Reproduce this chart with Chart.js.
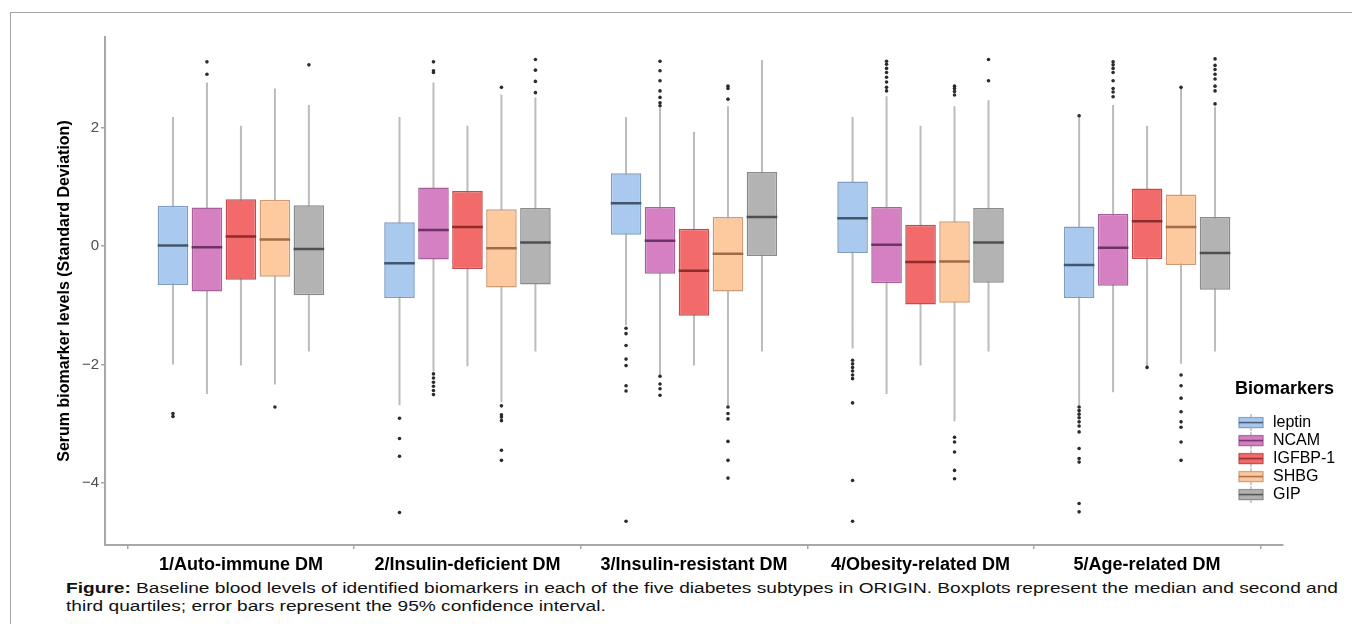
<!DOCTYPE html>
<html>
<head>
<meta charset="utf-8">
<script src="https://cdn.jsdelivr.net/npm/chart.js@4.4.1/dist/chart.umd.min.js"></script>
<style>
  html, body { margin: 0; padding: 0; background: #fff; overflow: hidden; width: 1352px; height: 624px; }
  #frame { position: absolute; left: 10px; top: 12px; width: 1400px; height: 700px; border: 1px solid #a3a3a3; }
  #wrap { position: absolute; left: 0; top: 0; width: 1352px; height: 575px; }
  #cap { position: absolute; left: 66px; top: 579px; font-family: 'Liberation Sans', Arial, sans-serif;
         font-size: 14px; line-height: 18px; color: #111; transform-origin: 0 0; white-space: nowrap; }
  #cap .ln { display: inline-block; }
</style>
</head>
<body>
<div id="frame"></div>
<div id="wrap"><canvas id="c" width="1352" height="575"></canvas></div>
<div id="cap">
  <span class="ln"><b>Figure:</b> Baseline blood levels of identified biomarkers in each of the five diabetes subtypes in ORIGIN. Boxplots represent the median and second and</span><br>
  <span class="ln">third quartiles; error bars represent the 95% confidence interval.</span>
</div>
<script>
// categories on the x axis
const categories = ['1/Auto-immune DM', '2/Insulin-deficient DM', '3/Insulin-resistant DM', '4/Obesity-related DM', '5/Age-related DM'];
const biomarkers = ['leptin', 'NCAM', 'IGFBP-1', 'SHBG', 'GIP'];
const yTicks = [-4, -2, 0, 2];

// per subtype: [lower whisker, Q1, median, Q3, upper whisker]
const leptinBox = [
  [-2.00, -0.66, 0.01, 0.68, 2.18],
  [-2.69, -0.88, -0.29, 0.40, 2.18],
  [-1.34, 0.19, 0.72, 1.23, 2.18],
  [-1.73, -0.12, 0.47, 1.09, 2.18],
  [-2.69, -0.88, -0.32, 0.33, 2.20]
];
const ncamBox = [
  [-2.50, -0.77, -0.02, 0.65, 2.76],
  [-2.12, -0.23, 0.27, 0.99, 2.76],
  [-2.19, -0.47, 0.09, 0.66, 2.34],
  [-2.50, -0.63, 0.02, 0.66, 2.53],
  [-2.47, -0.67, -0.03, 0.54, 2.38]
];
const igfbpBox = [
  [-2.02, -0.57, 0.16, 0.79, 2.03],
  [-2.03, -0.39, 0.32, 0.93, 2.03],
  [-2.02, -1.18, -0.42, 0.29, 1.93],
  [-2.02, -0.99, -0.27, 0.36, 2.03],
  [-2.04, -0.22, 0.42, 0.97, 2.03]
];
const shbgBox = [
  [-2.34, -0.52, 0.11, 0.78, 2.66],
  [-2.64, -0.70, -0.04, 0.62, 2.56],
  [-2.69, -0.77, -0.13, 0.49, 2.36],
  [-2.96, -0.96, -0.26, 0.42, 2.36],
  [-1.99, -0.32, 0.32, 0.87, 2.68]
];
const gipBox = [
  [-1.78, -0.83, -0.05, 0.69, 2.38],
  [-1.78, -0.65, 0.06, 0.64, 2.51],
  [-1.78, -0.17, 0.49, 1.25, 3.14],
  [-1.78, -0.62, 0.06, 0.64, 2.46],
  [-1.78, -0.74, -0.12, 0.49, 2.35]
];

// outliers per subtype
const leptinOut = [
  [-2.83, -2.88],
  [-2.91, -3.25, -3.55, -4.50],
  [-1.39, -1.48, -1.68, -1.91, -2.02, -2.36, -2.45, -4.65],
  [-1.93, -1.99, -2.05, -2.11, -2.18, -2.24, -2.65, -3.96, -4.65],
  [2.20, -2.72, -2.78, -2.84, -2.90, -2.97, -3.04, -3.14, -3.42, -3.59, -3.65, -4.35, -4.49]
];
const ncamOut = [
  [3.11, 2.90],
  [3.11, 2.96, 2.93, -2.16, -2.23, -2.30, -2.37, -2.44, -2.51],
  [3.12, 2.96, 2.79, 2.62, 2.51, 2.42, 2.37, -2.20, -2.33, -2.41, -2.52],
  [3.12, 3.07, 3.00, 2.93, 2.85, 2.77, 2.68, 2.62],
  [3.11, 3.06, 3.00, 2.93, 2.79, 2.66, 2.60, 2.52]
];
const igfbpOut = [[], [], [], [], [-2.05]];
const shbgOut = [
  [-2.72],
  [2.68, -2.70, -2.85, -2.89, -2.95, -3.45, -3.62],
  [2.70, 2.66, 2.48, -2.72, -2.83, -2.92, -3.30, -3.62, -3.92],
  [2.70, 2.66, 2.61, 2.55, -3.23, -3.31, -3.48, -3.79, -3.93],
  [2.68, -2.18, -2.36, -2.57, -2.80, -2.97, -3.06, -3.31, -3.62]
];
const gipOut = [
  [3.06],
  [3.15, 2.97, 2.78, 2.59],
  [],
  [3.15, 2.79],
  [3.16, 3.05, 2.98, 2.90, 2.82, 2.70, 2.62, 2.40]
];

const fills = ['#a9c9ee', '#d580c2', '#f26a6a', '#fdcaa0', '#b3b3b3'];
const edges = ['#7f9cc2', '#a8609b', '#c14e4e', '#cf9a76', '#8a8a8a'];
const medianColors = ['#44556e', '#6d3365', '#8e2c2c', '#a36a48', '#4f4f4f'];
const whiskerColor = '#bcbcbc';
const axisColor = '#a8a8a8';

const boxStats = [leptinBox, ncamBox, igfbpBox, shbgBox, gipBox];
const outStats = [leptinOut, ncamOut, igfbpOut, shbgOut, gipOut];

const N = biomarkers.length;
const CAT_PCT = 0.75;
const BAR_PCT = 0.9;
const slot = CAT_PCT / N;
const half = slot * BAR_PCT / 2;

Chart.defaults.font.family = "'Liberation Sans', Arial, sans-serif";

// little boxplot icons for the legend
function makeIcon(fill, edge, med) {
  const cv = document.createElement('canvas');
  cv.width = 26; cv.height = 17;
  const g = cv.getContext('2d');
  g.strokeStyle = whiskerColor; g.lineWidth = 1.5;
  g.beginPath(); g.moveTo(13, 0); g.lineTo(13, 17); g.stroke();
  g.fillStyle = fill; g.fillRect(1, 3.5, 24, 10);
  g.strokeStyle = edge; g.lineWidth = 1.2; g.strokeRect(1, 3.5, 24, 10);
  g.strokeStyle = med; g.lineWidth = 1.5;
  g.beginPath(); g.moveTo(1, 8.5); g.lineTo(25, 8.5); g.stroke();
  return cv;
}
const icons = biomarkers.map((b, i) => makeIcon(fills[i], edges[i], medianColors[i]));

const datasets = [];
// boxes (Q1..Q3)
boxStats.forEach((stats, i) => {
  datasets.push({
    type: 'bar',
    label: biomarkers[i],
    data: stats.map((s, k) => ({ x: k + 1, y: [s[1], s[3]] })),
    backgroundColor: fills[i],
    borderColor: edges[i],
    borderWidth: 1.5,
    borderSkipped: false,
    categoryPercentage: CAT_PCT,
    barPercentage: BAR_PCT,
    order: 2
  });
});
// whiskers, medians and outliers at the same dodge positions
boxStats.forEach((stats, i) => {
  const off = (i - (N - 1) / 2) * slot;
  const whisk = [];
  const meds = [];
  const outs = [];
  stats.forEach((s, k) => {
    const c = k + 1 + off;
    whisk.push({ x: c, y: s[0] }, { x: c, y: s[4] }, { x: c, y: null });
    meds.push({ x: c - half, y: s[2] }, { x: c + half, y: s[2] }, { x: c, y: null });
    outStats[i][k].forEach(v => outs.push({ x: c, y: v }));
  });
  datasets.push({ type: 'line', data: whisk, borderColor: whiskerColor, borderWidth: 2, pointRadius: 0, order: 3 });
  datasets.push({ type: 'line', data: meds, borderColor: medianColors[i], borderWidth: 2.5, pointRadius: 0, order: 1 });
  datasets.push({ type: 'scatter', data: outs, pointRadius: 1.8, pointBackgroundColor: '#2b2b2b', pointBorderWidth: 0, order: 0 });
});

// put the legend inside the panel, lower right
const legendPlacer = {
  id: 'legendPlacer',
  afterLayout(chart) {
    const lg = chart.legend;
    const a = chart.chartArea;
    lg.left = a.right - 48;
    lg.top = a.bottom - 165;
    lg.width = 115;
    lg.height = 180;
    lg.right = lg.left + lg.width;
    lg.bottom = lg.top + lg.height;
  }
};

const ctx = document.getElementById('c').getContext('2d');
new Chart(ctx, {
  type: 'bar',
  data: { datasets: datasets },
  plugins: [legendPlacer],
  options: {
    responsive: false,
    animation: false,
    events: [],
    layout: { padding: { left: 50, right: 69, top: 37, bottom: 0 } },
    plugins: {
      tooltip: { enabled: false },
      legend: {
        display: true,
        position: 'chartArea',
        align: 'start',
        title: { display: true, text: 'Biomarkers', color: '#000', position: 'start',
                 font: { size: 18, weight: 'bold' }, padding: { top: 0, bottom: 11 } },
        labels: {
          color: '#000',
          font: { size: 16 },
          usePointStyle: true,
          pointStyleWidth: 28,
          padding: 2,
          generateLabels: chart => Chart.defaults.plugins.legend.labels.generateLabels(chart)
            .filter(it => it.datasetIndex < N)
            .map(it => Object.assign(it, { pointStyle: icons[it.datasetIndex] }))
        }
      }
    },
    scales: {
      x: {
        type: 'linear',
        min: 0.4,
        max: 5.6,
        offset: false,
        afterBuildTicks: s => { s.ticks = categories.map((c, k) => ({ value: k + 1 })); },
        afterFit: s => { s.height = 30; },
        ticks: {
          autoSkip: false, maxRotation: 0, padding: 5, color: '#000',
          font: { size: 18, weight: 'bold' },
          callback: v => categories[v - 1]
        },
        grid: { display: true, drawOnChartArea: false, drawTicks: true, tickLength: 4, color: axisColor, lineWidth: 1.5 },
        border: { display: true, color: axisColor, width: 2 }
      },
      y: {
        type: 'linear',
        min: -5.05,
        max: 3.53,
        afterBuildTicks: s => { s.ticks = yTicks.map(v => ({ value: v })); },
        afterFit: s => { s.width = 55; },
        ticks: {
          padding: 2, color: '#4d4d4d', font: { size: 15 },
          callback: v => (v < 0 ? '\u2212' + Math.abs(v) : String(v))
        },
        title: {
          display: true, text: 'Serum biomarker levels (Standard Deviation)', color: '#000',
          font: { size: 16, weight: 'bold' }, padding: { top: 5, bottom: 0 }
        },
        grid: { display: true, drawOnChartArea: false, drawTicks: true, tickLength: 4, color: axisColor, lineWidth: 1.5 },
        border: { display: true, color: axisColor, width: 2 }
      }
    }
  }
});

// stretch caption so the first line spans the figure width like the original
const cap = document.getElementById('cap');
const firstLine = cap.querySelector('.ln');
const w = firstLine.getBoundingClientRect().width;
cap.style.transform = 'scaleX(' + (1272 / w) + ')';
</script>
</body>
</html>
